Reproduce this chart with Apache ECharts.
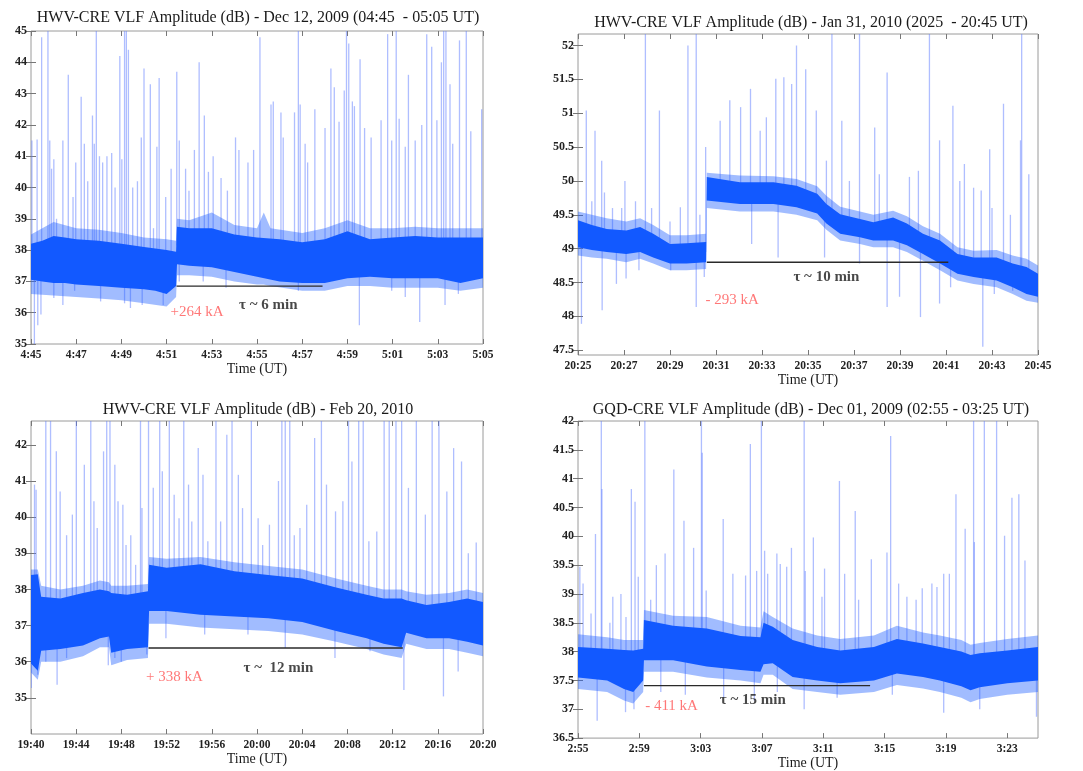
<!DOCTYPE html>
<html><head><meta charset="utf-8">
<script src="https://cdn.jsdelivr.net/npm/echarts@6/dist/echarts.min.js"></script>
<style>html,body{margin:0;padding:0;background:#fff}#c{width:1083px;height:771px}</style>
</head><body><div id="c"></div>
<script>
// ---------- Panel 1: HWV-CRE Dec 12, 2009 (minutes after 04:45) ----------
const p1Title = 'HWV-CRE VLF Amplitude (dB) - Dec 12, 2009 (04:45  - 05:05 UT)';
const p1XTicks = [0,2,4,6,8,10,12,14,16,18,20];
const p1XLabels = ['4:45','4:47','4:49','4:51','4:53','4:55','4:57','4:59','5:01','5:03','5:05'];
const p1YTicks = [35,36,37,38,39,40,41,42,43,44,45];
const p1YRange = [35, 45];
const p1CoreT  = [0,0.5,1,1.5,2,3,4,5,5.5,6,6.42,6.46,7,8,9,10,11,12,13,14,15,16,17,18,19,20];
const p1CoreLo = [37.05,37.0,36.95,36.95,36.9,36.85,36.8,36.75,36.7,36.6,36.85,37.55,37.5,37.45,37.3,37.15,37.0,36.95,36.95,37.1,37.15,37.1,37.1,37.1,36.95,37.1];
const p1CoreHi = [38.2,38.3,38.45,38.4,38.35,38.3,38.2,38.1,38.05,38.0,37.95,38.75,38.7,38.7,38.5,38.4,38.35,38.25,38.35,38.6,38.35,38.4,38.45,38.4,38.4,38.4];
const p1HaloT  = [0,1,2,3,4,5,6,6.42,6.46,7,8,9,10,10.3,10.6,12,13,14,15,16,17,18,19,20];
const p1HaloLo = [36.6,36.55,36.5,36.45,36.4,36.3,36.2,36.5,37.2,37.2,37.15,37.0,36.9,36.9,36.85,36.7,36.7,36.85,36.85,36.8,36.8,36.8,36.7,36.8];
const p1HaloHi = [38.5,38.9,38.7,38.65,38.55,38.4,38.35,38.3,39.0,38.95,39.2,38.8,38.7,39.2,38.7,38.55,38.7,38.95,38.7,38.7,38.75,38.7,38.7,38.7];
const p1SpikesUp = [[0.04,41.5],[0.27,41.53],[0.47,44.8],[0.75,45],[0.83,41.5],[0.91,40.6],[1.01,40.9],[1.13,39.0],[1.41,41.5],[1.65,43.6],[1.86,39.7],[1.98,40.8],[2.22,42.9],[2.36,41.4],[2.51,40.2],[2.72,42.3],[2.8,41.4],[2.89,45],[3.03,41.0],[3.17,40.8],[3.36,41.0],[3.57,41.1],[3.72,40.0],[3.93,44.2],[4.02,40.9],[4.14,45],[4.22,45],[4.31,44.4],[4.5,40.0],[4.71,40.2],[4.88,41.6],[5.0,43.8],[5.28,43.3],[5.42,38.7],[5.57,41.3],[5.67,43.5],[5.96,39.7],[6.2,40.6],[6.45,43.7],[6.56,41.5],[6.84,40.6],[6.99,39.9],[7.23,41.2],[7.44,44.0],[7.67,42.3],[7.85,40.5],[8.06,41.0],[8.41,40.3],[8.69,39.9],[9.05,41.6],[9.2,41.2],[9.6,40.8],[9.85,41.2],[10.13,44.8],[10.62,42.65],[10.72,42.75],[11.06,42.4],[11.16,41.6],[11.66,42.4],[11.83,45],[11.91,42.65],[12.13,41.4],[12.24,40.8],[12.56,42.5],[13.01,41.9],[13.27,43.8],[13.42,43.2],[13.63,42.1],[13.86,43.1],[13.96,45],[14.06,44.6],[14.22,42.75],[14.31,42.6],[14.56,44.1],[14.76,41.9],[15.05,41.6],[15.49,42.15],[15.78,44.9],[15.96,41.5],[16.16,45],[16.29,42.2],[16.56,41.3],[16.7,43.6],[17.0,41.5],[17.29,42.0],[17.51,44.9],[17.73,44.5],[17.96,42.15],[18.16,44.0],[18.26,45],[18.36,45],[18.54,43.3],[18.66,41.4],[18.96,44.7],[19.26,45],[19.46,41.8],[19.94,42.5]];
const p1SpikesDown = [[0.15,35.0],[0.3,35.6],[0.44,35.94],[1.01,36.47],[1.41,36.25],[1.93,36.7],[3.08,36.36],[4.14,36.3],[4.4,36.15],[4.92,36.25],[5.85,36.25],[6.56,37.0],[7.62,37.0],[8.63,36.8],[11.83,36.7],[14.53,35.6],[15.96,36.7],[16.56,36.5],[17.2,35.7],[18.32,36.25],[18.91,36.6]];
const p1TauLine = [[6.44,36.85],[12.9,36.85]];
const p1RedLabel = ['+264 kA', 7.35, 36.02];
const p1TauLabel = ['τ ~ 6 min', 10.5, 36.25];

// ---------- Panel 2: HWV-CRE Jan 31, 2010 (minutes after 20:25) ----------
const p2Title = 'HWV-CRE VLF Amplitude (dB) - Jan 31, 2010 (2025  - 20:45 UT)';
const p2XTicks = [0,2,4,6,8,10,12,14,16,18,20];
const p2XLabels = ['20:25','20:27','20:29','20:31','20:33','20:35','20:37','20:39','20:41','20:43','20:45'];
const p2YTicks = [47.5,48,48.5,49,49.5,50,50.5,51,51.5,52];
const p2YRange = [47.43, 52.17];
const p2CoreT  = [0,0.6,1.25,2.1,2.7,3.27,4.0,4.72,5.57,5.6,7.04,8.5,9.5,10.4,10.8,11.4,12.26,12.84,13.7,14.3,15.0,15.74,16.5,17.2,18.2,18.9,19.5,20];
const p2CoreLo = [49.02,48.98,48.95,48.92,48.95,48.87,48.78,48.78,48.8,49.71,49.66,49.66,49.61,49.52,49.37,49.22,49.17,49.12,49.12,49.05,48.92,48.78,48.63,48.58,48.53,48.43,48.33,48.29];
const p2CoreHi = [49.42,49.35,49.29,49.27,49.32,49.22,49.07,49.08,49.1,50.06,49.98,49.98,49.93,49.81,49.66,49.51,49.44,49.39,49.46,49.37,49.22,49.12,48.92,48.87,48.87,48.78,48.73,48.63];
const p2HaloT  = p2CoreT;
const p2HaloLo = [48.9,48.87,48.85,48.8,48.85,48.78,48.68,48.68,48.7,49.6,49.55,49.55,49.5,49.42,49.28,49.12,49.07,49.02,49.02,48.95,48.82,48.68,48.53,48.48,48.43,48.33,48.23,48.2];
const p2HaloHi = [49.55,49.5,49.45,49.4,49.45,49.35,49.2,49.2,49.22,50.12,50.08,50.07,50.03,49.92,49.78,49.62,49.55,49.5,49.56,49.48,49.33,49.22,49.02,48.97,48.98,48.9,48.85,48.75];
const p2SpikesUp = [[0.36,51.04],[0.6,49.7],[0.74,50.74],[1.03,50.3],[1.15,49.83],[1.5,49.6],[1.9,49.6],[2.04,50.0],[2.5,49.7],[2.93,52.17],[3.2,49.6],[3.54,51.04],[4.0,49.4],[4.45,49.61],[4.78,52.0],[5.14,52.17],[5.3,49.5],[5.55,50.5],[6.18,50.89],[6.6,51.19],[7.07,51.09],[7.5,51.36],[7.92,50.74],[8.19,50.94],[8.6,51.51],[8.95,51.53],[9.29,51.43],[9.5,52.0],[9.9,51.65],[10.36,51.04],[10.8,50.3],[11.04,52.17],[11.47,50.89],[11.8,50.0],[12.24,52.17],[12.9,50.79],[13.1,50.1],[13.44,51.6],[14.41,50.06],[14.8,50.15],[15.28,52.17],[15.72,50.6],[16.3,51.11],[16.6,50.0],[16.8,50.25],[17.2,49.9],[17.53,49.86],[17.9,50.47],[18.0,49.6],[18.5,51.14],[18.8,49.5],[19.24,50.6],[19.29,52.17],[19.6,50.1]];
const p2SpikesDown = [[0.15,47.89],[1.05,48.09],[1.67,48.48],[2.09,48.56],[2.65,48.68],[4.03,48.68],[5.14,48.14],[5.49,48.58],[7.55,49.07],[8.7,48.87],[10.72,48.87],[12.24,48.78],[13.44,48.14],[13.98,48.29],[14.89,47.99],[15.72,48.19],[16.2,48.43],[17.6,47.55],[18.1,48.33],[18.9,48.38]];
const p2TauLine = [[5.6,48.8],[16.1,48.8]];
const p2RedLabel = ['- 293 kA', 6.7, 48.24];
const p2TauLabel = ['τ ~ 10 min', 10.8, 48.58];

// ---------- Panel 3: HWV-CRE Feb 20, 2010 (minutes after 19:40) ----------
const p3Title = 'HWV-CRE VLF Amplitude (dB) - Feb 20, 2010';
const p3XTicks = [0,4,8,12,16,20,24,28,32,36,40];
const p3XLabels = ['19:40','19:44','19:48','19:52','19:56','20:00','20:04','20:08','20:12','20:16','20:20'];
const p3YTicks = [35,36,37,38,39,40,41,42];
const p3YRange = [34, 42.66];
const p3CoreT  = [0,0.6,0.9,2.6,4.6,6.1,6.9,7.1,8.5,10.35,10.45,12,15,18,21,24,27,29.7,31.2,32.8,33.2,35,37,38.6,40];
const p3CoreLo = [35.95,35.75,36.3,36.35,36.45,36.65,36.7,36.25,36.35,36.4,37.4,37.4,37.3,37.25,37.2,37.1,36.85,36.65,36.5,36.4,36.8,36.65,36.65,36.55,36.45];
const p3CoreHi = [38.4,38.42,37.8,37.75,37.9,38.0,37.95,37.9,37.85,37.95,38.68,38.6,38.7,38.5,38.4,38.3,38.05,37.85,37.75,37.75,37.7,37.57,37.65,37.75,37.65];
const p3HaloT  = p3CoreT;
const p3HaloLo = [35.7,35.5,36.0,36.0,36.15,36.4,36.4,35.9,36.05,36.1,37.05,37.05,36.95,36.9,36.85,36.75,36.55,36.35,36.2,36.1,36.5,36.35,36.35,36.25,36.15];
const p3HaloHi = [38.55,38.55,38.1,38.0,38.1,38.25,38.2,38.1,38.1,38.15,38.9,38.85,38.9,38.75,38.65,38.55,38.3,38.1,38.0,38.0,37.95,37.85,37.9,38.0,37.9];
const p3SpikesUp = [[0.31,40.9],[0.45,40.76],[1.31,42.66],[1.73,42.66],[2.24,41.82],[2.58,40.71],[3.15,39.5],[3.66,40.07],[4.01,42.66],[4.72,41.45],[5.29,42.66],[5.57,40.44],[5.86,39.7],[6.42,41.82],[6.7,42.66],[6.99,42.66],[7.42,41.45],[7.7,40.44],[8.13,40.34],[8.41,39.23],[8.83,39.5],[9.26,38.68],[9.69,42.66],[9.82,40.25],[10.4,42.66],[10.82,40.81],[11.39,42.66],[11.62,41.27],[12.24,42.66],[12.67,40.62],[13.1,39.97],[13.52,42.66],[13.94,40.9],[14.23,39.88],[14.8,41.91],[15.22,41.17],[15.65,39.33],[16.37,42.66],[16.78,39.88],[17.33,42.28],[17.79,42.66],[18.35,41.17],[18.72,40.25],[19.5,42.66],[20.1,39.97],[20.5,39.23],[21.1,39.79],[21.9,41.0],[22.2,42.66],[22.5,42.66],[22.9,42.66],[23.3,39.5],[23.8,39.7],[24.4,40.34],[25.1,42.19],[25.7,42.66],[26.15,40.9],[26.95,40.16],[27.6,40.44],[28.1,42.66],[28.4,41.54],[29.0,42.66],[29.4,42.66],[29.9,39.33],[30.6,39.6],[31.25,42.66],[31.7,42.66],[32.3,42.66],[32.8,42.66],[33.4,40.81],[34.1,42.66],[34.9,40.07],[35.5,42.66],[36.1,42.66],[36.8,40.71],[37.4,41.91],[38.1,41.54],[38.7,39.0],[39.4,39.3]];
const p3SpikesDown = [[0.03,35.27],[0.6,35.64],[1.31,36.0],[2.31,35.36],[3.15,36.1],[6.84,35.9],[7.42,36.1],[7.99,36.0],[10.25,36.2],[11.94,36.65],[15.37,36.75],[19.2,36.75],[22.5,36.38],[26.9,36.1],[30.0,36.29],[33.0,35.22],[36.5,35.04],[37.8,35.73]];
const p3TauLine = [[10.4,36.38],[32.9,36.38]];
const p3RedLabel = ['+ 338 kA', 12.7, 35.58];
const p3TauLabel = ['τ ~  12 min', 21.9, 35.83];

// ---------- Panel 4: GQD-CRE Dec 01, 2009 (minutes after 02:55) ----------
const p4Title = 'GQD-CRE VLF Amplitude (dB) - Dec 01, 2009 (02:55 - 03:25 UT)';
const p4XTicks = [0,4,8,12,16,20,24,28];
const p4XLabels = ['2:55','2:59','3:03','3:07','3:11','3:15','3:19','3:23'];
const p4YTicks = [36.5,37,37.5,38,38.5,39,39.5,40,40.5,41,41.5,42];
const p4YRange = [36.5, 42];
const p4CoreT  = [0,1.9,3.0,3.6,4.25,4.3,6.2,8.4,10.6,11.9,12.1,12.7,14.0,15.6,17.1,19.3,20.8,22.5,23.6,25.0,25.6,26.2,28,30];
const p4CoreLo = [37.55,37.5,37.35,37.3,37.5,37.85,37.85,37.74,37.68,37.65,37.78,37.8,37.56,37.5,37.45,37.5,37.62,37.56,37.5,37.4,37.33,37.38,37.45,37.5];
const p4CoreHi = [38.08,38.05,38.03,38.02,38.05,38.55,38.45,38.4,38.27,38.25,38.5,38.43,38.2,38.08,38.02,38.08,38.22,38.14,38.08,38.0,37.94,37.97,38.02,38.08];
const p4HaloT  = p4CoreT;
const p4HaloLo = [37.35,37.3,37.15,37.1,37.3,37.65,37.65,37.55,37.5,37.45,37.6,37.6,37.35,37.3,37.25,37.3,37.42,37.36,37.3,37.2,37.12,37.18,37.25,37.3];
const p4HaloHi = [38.3,38.25,38.2,38.2,38.2,38.72,38.62,38.6,38.45,38.42,38.7,38.6,38.4,38.28,38.22,38.28,38.45,38.33,38.28,38.2,38.12,38.15,38.22,38.28];
const p4SpikesUp = [[0.12,39.47],[0.33,39.18],[0.85,38.66],[1.14,40.04],[1.52,42],[1.56,40.82],[2.08,38.5],[2.27,38.95],[2.8,39.0],[3.13,38.6],[3.48,40.82],[3.72,40.6],[3.93,39.3],[4.36,42],[4.74,38.9],[5.11,39.5],[5.68,39.7],[6.25,41.16],[6.91,40.27],[7.54,39.8],[8.05,42],[8.1,41.45],[8.36,39.06],[9.47,40.3],[10.1,39.35],[10.93,39.32],[11.24,41.6],[11.65,39.4],[11.96,42],[12.17,39.75],[12.37,39.35],[12.97,39.7],[13.19,39.52],[13.61,39.47],[13.92,39.8],[14.75,42],[14.82,39.4],[15.35,39.98],[15.91,38.95],[16.08,39.44],[17.05,40.96],[17.39,39.35],[18.08,40.44],[18.3,38.9],[19.13,39.6],[20.15,39.72],[20.39,41.74],[20.91,39.18],[21.45,38.95],[22.05,38.9],[22.45,39.1],[23.08,39.18],[23.41,39.12],[23.85,39.35],[24.22,39.35],[24.65,40.73],[25.25,40.13],[25.8,42],[25.85,39.9],[26.5,42],[27.3,42],[27.82,40.01],[28.3,40.67],[28.75,40.73],[29.15,39.58]];
const p4SpikesDown = [[1.25,36.8],[3.1,36.95],[3.65,37.0],[5.4,37.3],[7.0,37.25],[9.5,37.2],[11.5,37.15],[13.0,37.3],[14.75,37.0],[16.9,37.2],[20.5,37.25],[23.85,36.94],[26.2,37.0],[29.9,36.87]];
const p4TauLine = [[4.3,37.41],[19.05,37.41]];
const p4RedLabel = ['- 411 kA', 6.1, 37.05];
const p4TauLabel = ['τ ~ 15 min', 11.4, 37.16];

// ---------- layout (pixels) ----------
const panels = [
  {title:p1Title, tx:253, ty:5,  grid:{left:31, top:31, width:452, height:313}, xmax:20, xt:p1XTicks, xl:p1XLabels, yt:p1YTicks, yr:p1YRange,
   cT:p1CoreT, cLo:p1CoreLo, cHi:p1CoreHi, hT:p1HaloT, hLo:p1HaloLo, hHi:p1HaloHi, su:p1SpikesUp, sd:p1SpikesDown, tau:p1TauLine, red:p1RedLabel, tl:p1TauLabel, gap:15},
  {title:p2Title, tx:806, ty:10, grid:{left:578, top:34, width:460, height:321}, xmax:20, xt:p2XTicks, xl:p2XLabels, yt:p2YTicks, yr:p2YRange,
   cT:p2CoreT, cLo:p2CoreLo, cHi:p2CoreHi, hT:p2HaloT, hLo:p2HaloLo, hHi:p2HaloHi, su:p2SpikesUp, sd:p2SpikesDown, tau:p2TauLine, red:p2RedLabel, tl:p2TauLabel, gap:15},
  {title:p3Title, tx:253, ty:397, grid:{left:31, top:421, width:452, height:313}, xmax:40, xt:p3XTicks, xl:p3XLabels, yt:p3YTicks, yr:p3YRange,
   cT:p3CoreT, cLo:p3CoreLo, cHi:p3CoreHi, hT:p3HaloT, hLo:p3HaloLo, hHi:p3HaloHi, su:p3SpikesUp, sd:p3SpikesDown, tau:p3TauLine, red:p3RedLabel, tl:p3TauLabel, gap:13},
  {title:p4Title, tx:806, ty:397, grid:{left:578, top:421, width:460, height:320}, xmax:30, xt:p4XTicks, xl:p4XLabels, yt:p4YTicks, yr:p4YRange,
   cT:p4CoreT, cLo:p4CoreLo, cHi:p4CoreHi, hT:p4HaloT, hLo:p4HaloLo, hHi:p4HaloHi, su:p4SpikesUp, sd:p4SpikesDown, tau:p4TauLine, red:p4RedLabel, tl:p4TauLabel, gap:13}
];

const SERIF = '"Liberation Serif","Times New Roman",serif';
const CORE = '#1259ff';
const HALO = 'rgba(30,95,255,0.42)';
const SPIKE = 'rgba(95,125,255,0.5)';

function bandSeries(i, T, LO, HI, fill, z){
  return {type:'custom', xAxisIndex:2*i, yAxisIndex:2*i, z:z, silent:true, clip:true,
    data:[[T[0], LO[0]]],
    renderItem:function(params, api){
      const pts = [];
      for (let k=0;k<T.length;k++) pts.push(api.coord([T[k], HI[k]]));
      for (let k=T.length-1;k>=0;k--) pts.push(api.coord([T[k], LO[k]]));
      return {type:'polygon', shape:{points:pts}, style:{fill:fill}};
    }};
}
function spikeSeries(i, S, T, LO, HI, z){
  return {type:'custom', xAxisIndex:2*i, yAxisIndex:2*i, z:z, silent:true, clip:true,
    data:S,
    renderItem:function(params, api){
      const t = api.value(0), v = api.value(1);
      let k = 0, best = 1e9;
      for (let j=0;j<T.length;j++){ const d=Math.abs(T[j]-t); if(d<best){best=d;k=j;} }
      const base = (LO[k]+HI[k])/2;
      const a = api.coord([t, v]), b = api.coord([t, base]);
      return {type:'line', shape:{x1:a[0], y1:a[1], x2:b[0], y2:b[1]}, style:{stroke:SPIKE, lineWidth:1.3}};
    }};
}

const grid=[], xAxis=[], yAxis=[], series=[], title=[];
panels.forEach(function(p, i){
  grid.push(Object.assign({show:true, borderColor:'#9a9a9a', borderWidth:1, backgroundColor:'#fff'}, p.grid));
  title.push({text:p.title, left:p.tx, top:p.ty, textAlign:'center',
    textStyle:{fontFamily:SERIF, fontSize:16, fontWeight:'normal', color:'#1a1a1a'}});
  const fmtX = function(v){ const k = p.xt.findIndex(function(t){return Math.abs(t-v)<1e-6;}); return k>=0 ? p.xl[k] : ''; };
  xAxis.push({type:'value', gridIndex:i, min:0, max:p.xmax, position:'bottom',
    axisLine:{show:false}, splitLine:{show:false},
    axisTick:{show:true, inside:true, length:5, customValues:p.xt, lineStyle:{color:'#777'}},
    axisLabel:{customValues:p.xt, formatter:fmtX, fontFamily:SERIF, fontWeight:'bold', fontSize:11.5, color:'#222', margin:5, hideOverlap:false},
    name:'Time (UT)', nameLocation:'middle', nameGap:p.gap,
    nameTextStyle:{fontFamily:SERIF, fontSize:14, color:'#1a1a1a', verticalAlign:'top'}});
  xAxis.push({type:'value', gridIndex:i, min:0, max:p.xmax, position:'top',
    axisLine:{show:false}, splitLine:{show:false},
    axisTick:{show:true, inside:true, length:5, customValues:p.xt, lineStyle:{color:'#777'}},
    axisLabel:{show:false}});
  yAxis.push({type:'value', gridIndex:i, min:p.yr[0], max:p.yr[1], position:'left',
    axisLine:{show:false}, splitLine:{show:false},
    axisTick:{show:true, inside:true, length:5, customValues:p.yt, lineStyle:{color:'#777'}},
    axisLabel:{customValues:p.yt, formatter:function(v){return String(v);}, fontFamily:SERIF, fontWeight:'bold', fontSize:12, color:'#222', margin:4, showMinLabel:true, showMaxLabel:true}});
  yAxis.push({type:'value', gridIndex:i, min:p.yr[0], max:p.yr[1], position:'right',
    axisLine:{show:false}, splitLine:{show:false},
    axisTick:{show:true, inside:true, length:5, customValues:p.yt, lineStyle:{color:'#777'}},
    axisLabel:{show:false}});

  series.push(spikeSeries(i, p.su, p.cT, p.cLo, p.cHi, 1));
  series.push(spikeSeries(i, p.sd, p.cT, p.cLo, p.cHi, 1));
  series.push(bandSeries(i, p.hT, p.hLo, p.hHi, HALO, 2));
  series.push(bandSeries(i, p.cT, p.cLo, p.cHi, CORE, 3));
  series.push({type:'line', xAxisIndex:2*i, yAxisIndex:2*i, z:5, silent:true, symbol:'none',
    data:p.tau, lineStyle:{color:'#2a2a2a', width:1.4}});
  series.push({type:'scatter', xAxisIndex:2*i, yAxisIndex:2*i, z:6, silent:true, symbolSize:0,
    data:[[p.red[1], p.red[2]]],
    label:{show:true, position:'inside', formatter:p.red[0], fontFamily:SERIF, fontSize:15, color:'#ff5555'}});
  series.push({type:'scatter', xAxisIndex:2*i, yAxisIndex:2*i, z:6, silent:true, symbolSize:0,
    data:[[p.tl[1], p.tl[2]]],
    label:{show:true, position:'inside', formatter:p.tl[0], fontFamily:SERIF, fontSize:15, fontWeight:'bold', color:'#1a1a1a'}});
});

const chart = echarts.init(document.getElementById('c'));
chart.setOption({animation:false, backgroundColor:'#fff', title:title, grid:grid, xAxis:xAxis, yAxis:yAxis, series:series});
</script></body></html>
